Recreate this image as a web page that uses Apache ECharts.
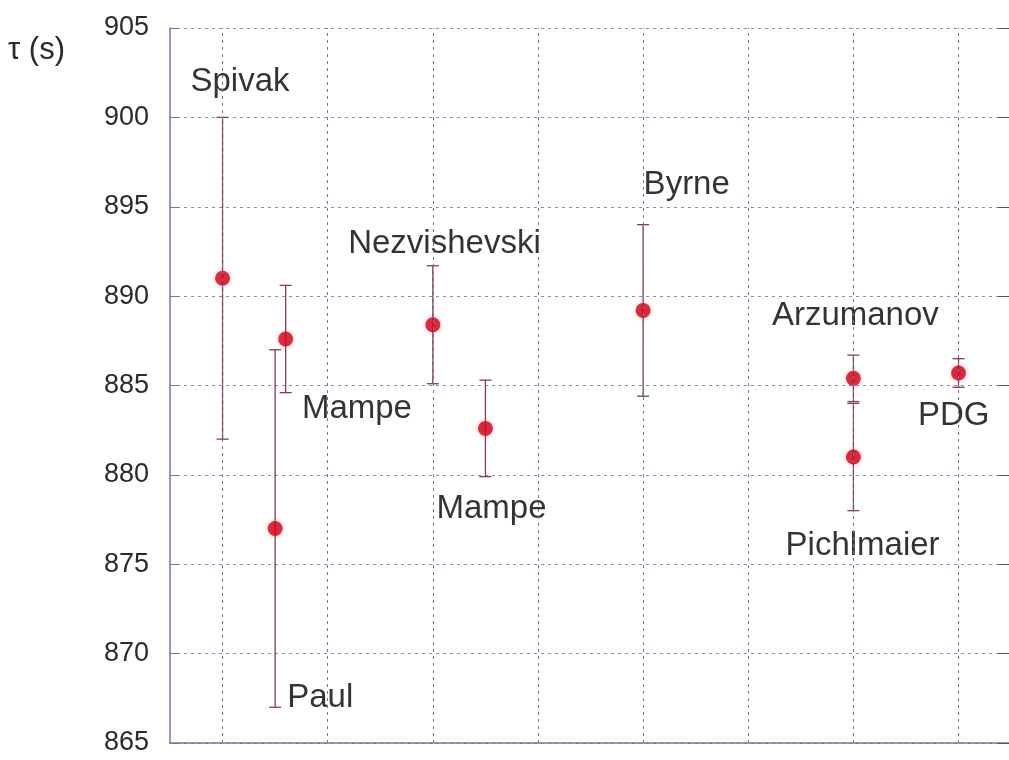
<!DOCTYPE html>
<html>
<head>
<meta charset="utf-8">
<script src="https://cdn.jsdelivr.net/npm/echarts@6/dist/echarts.min.js"></script>
<style>
  html, body { margin: 0; padding: 0; background: #fff; }
  #chart { width: 1009px; height: 760px; }
</style>
</head>
<body>
<div id="chart"></div>
<script>
// Measurements of the neutron lifetime
const names = ["Spivak", "Paul", "Mampe", "Nezvishevski", "Mampe", "Byrne", "Arzumanov", "Pichlmaier", "PDG"];
const xPos = [1, 1.5, 1.6, 3, 3.5, 5, 7, 7, 8];
const lifetimes = [891.0, 877.0, 887.6, 888.4, 882.6, 889.2, 885.4, 881.0, 885.7];
const errors = [9.0, 10.0, 3.0, 3.3, 2.7, 4.8, 1.3, 3.0, 0.8];

// where each name is written (data units, left edge / middle of the text)
const labelX = [0.69, 1.61, 1.75, 2.19, 3.03, 5.0, 6.22, 6.35, 7.61];
const labelY = [902.0, 867.5, 883.7, 892.9, 878.1, 896.2, 888.9, 876.0, 883.3];

// vertical grid lines and y ticks
const gridX = [1, 2, 3, 4, 5, 6, 7, 8];
const yMin = 865, yMax = 905, yStep = 5;

const chart = echarts.init(document.getElementById("chart"));

const axisColor = "#7474b4";
const gridColor = "#8a8abd";
const barColor = "#8a3a4a";

const points = xPos.map((x, i) => [x, lifetimes[i]]);
const bars = xPos.map((x, i) => [x, lifetimes[i] - errors[i], lifetimes[i] + errors[i]]);
const labels = labelX.map((x, i) => ({ value: [x, labelY[i]], name: names[i] }));

chart.setOption({
    backgroundColor: "#fff",
    animation: false,
    grid: { left: 170, right: -3, top: 28, bottom: 17 },
    xAxis: {
        type: "value",
        min: 0.5,
        max: 8.48,
        axisLine: { show: true, lineStyle: { color: axisColor, width: 1.5 } },
        axisTick: { show: false },
        axisLabel: { show: false },
        splitLine: { show: false },
    },
    yAxis: [
        {
            type: "value",
            min: yMin,
            max: yMax,
            interval: yStep,
            axisLine: { show: true, lineStyle: { color: axisColor, width: 1.5 } },
            axisTick: { show: true, inside: true, length: 10, lineStyle: { color: axisColor } },
            axisLabel: {
                margin: 21,
                color: "#2a2a2a",
                fontSize: 27,
                fontFamily: "Liberation Sans",
            },
            splitLine: { show: true, lineStyle: { color: gridColor, type: [3, 4], width: 1 } },
        },
        {
            type: "value",
            position: "right",
            min: yMin,
            max: yMax,
            interval: yStep,
            axisLine: { show: false },
            axisTick: { show: true, inside: true, length: 11, lineStyle: { color: "#555" } },
            axisLabel: { show: false },
            splitLine: { show: false },
        },
    ],
    graphic: [
        {
            type: "text",
            left: 8,
            top: 35,
            style: {
                text: "τ (s)",
                fill: "#2a2a2a",
                fontSize: 31,
                fontFamily: "Liberation Sans",
            },
        },
    ],
    series: [
        {
            // vertical dashed grid lines
            type: "scatter",
            data: [],
            z: 1,
            silent: true,
            markLine: {
                silent: true,
                symbol: "none",
                label: { show: false },
                lineStyle: { color: "#7272ad", type: [3, 4], width: 1 },
                data: gridX.map((x) => ({ xAxis: x })),
            },
        },
        {
            type: "custom",
            z: 2,
            data: bars,
            encode: { x: 0, y: [1, 2] },
            renderItem: function (params, api) {
                const x = api.value(0);
                const lo = api.coord([x, api.value(1)]);
                const hi = api.coord([x, api.value(2)]);
                const w = 6;
                const style = { stroke: barColor, lineWidth: 1.3 };
                return {
                    type: "group",
                    children: [
                        { type: "line", shape: { x1: lo[0], y1: lo[1], x2: hi[0], y2: hi[1] }, style: style },
                        { type: "line", shape: { x1: lo[0] - w, y1: lo[1], x2: lo[0] + w, y2: lo[1] }, style: style },
                        { type: "line", shape: { x1: hi[0] - w, y1: hi[1], x2: hi[0] + w, y2: hi[1] }, style: style },
                    ],
                };
            },
        },
        {
            type: "scatter",
            z: 3,
            data: points,
            symbol: "circle",
            symbolSize: 15,
            itemStyle: {
                color: "#d00016",
                shadowBlur: 5,
                shadowColor: "rgba(255, 40, 40, 0.35)",
            },
        },
        {
            type: "scatter",
            z: 4,
            data: labels,
            symbolSize: 1,
            itemStyle: { color: "transparent" },
            label: {
                show: true,
                position: "right",
                distance: 0,
                formatter: "{b}",
                color: "#000",
                fontSize: 33,
                fontFamily: "Liberation Sans",
                verticalAlign: "middle",
            },
        },
    ],
});
</script>
</body>
</html>
